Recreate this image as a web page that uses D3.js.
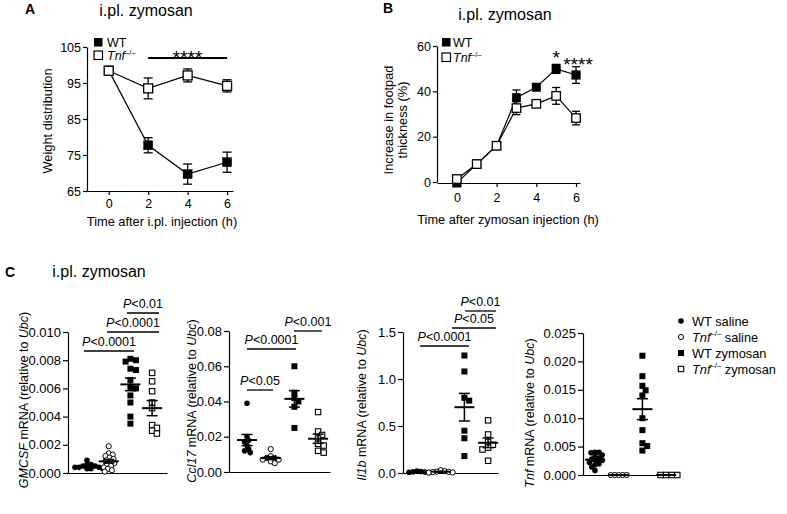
<!DOCTYPE html>
<html><head><meta charset="utf-8">
<script src="https://cdn.jsdelivr.net/npm/d3@7"></script>
<style>
body{margin:0;background:#fff}
svg{display:block;background:#fff}
text{font-family:"Liberation Sans",Arial,sans-serif;fill:#000}
</style>
</head><body>
<svg id="chart" width="787" height="514"></svg>
<script>
// ---------- Panel A data ----------
const timesA = [0, 2, 4, 6];
const wtA = [98.5, 77.7, 69.7, 73.0];
const wtAerr = [0.6, 2.1, 2.8, 2.8];
const tnfA = [98.4, 93.5, 97.1, 94.2];
const tnfAerr = [0.6, 2.9, 1.8, 1.7];
const ticksAx = [0, 2, 4, 6];
const ticksAy = [65, 75, 85, 95, 105];

// ---------- Panel B data ----------
const timesB = [0, 1, 2, 3, 4, 5, 6];
const wtB = [-0.4, 7.9, 16, 37.2, 41.8, 49.9, 47.2];
const wtBerr = [0.5, 0.8, 0.8, 3.4, 1.0, 2.0, 3.7];
const tnfB = [1.3, 7.9, 16, 32.6, 34.5, 38.0, 28.2];
const tnfBerr = [0.5, 0.8, 0.8, 2.9, 1.0, 3.7, 3.0];
const ticksBx = [0, 2, 4, 6];
const ticksBy = [0, 20, 40, 60];

// ---------- Panel C data (groups: WT saline, Tnf-/- saline, WT zymosan, Tnf-/- zymosan) ----------
const groupsC = ["WT saline", "Tnf saline", "WT zymosan", "Tnf zymosan"];
const gmcsfData = [
  [0.0009, 0.0006, 0.0006, 0.0005, 0.0005, 0.0004, 0.0004, 0.0004, 0.0003, 0.0003, 0.0003],
  [0.0019, 0.0014, 0.0013, 0.0012, 0.0011, 0.0010, 0.0009, 0.0008, 0.0007, 0.0006, 0.0005, 0.0004, 0.0003, 0.0002, 0.0001],
  [0.0080, 0.0081, 0.0079, 0.0074, 0.0073, 0.0066, 0.0061, 0.0060, 0.0055, 0.0050, 0.0040, 0.0035],
  [0.0071, 0.0065, 0.0058, 0.0050, 0.0046, 0.0034, 0.0032, 0.0030, 0.0028]
];
const ccl17Data = [
  [0.039, 0.020, 0.018, 0.017, 0.015, 0.013, 0.012, 0.011],
  [0.013, 0.009, 0.008, 0.008, 0.007, 0.007, 0.006, 0.005],
  [0.060, 0.045, 0.042, 0.040, 0.037, 0.025],
  [0.034, 0.023, 0.021, 0.019, 0.016, 0.015, 0.012, 0.011]
];
const il1bData = [
  [0.020, 0.015, 0.012, 0.010, 0.008, 0.005],
  [0.030, 0.020, 0.015, 0.012, 0.010, 0.006, 0.004],
  [1.25, 1.08, 0.80, 0.77, 0.45, 0.37, 0.18],
  [0.56, 0.41, 0.33, 0.30, 0.27, 0.25, 0.13]
];
const tnfData = [
  [0.0040, 0.0040, 0.0039, 0.0035, 0.0032, 0.0030, 0.0028, 0.0026, 0.0025, 0.0022, 0.0020, 0.0018, 0.0014, 0.0008],
  [0, 0, 0, 0, 0],
  [0.0210, 0.0174, 0.0157, 0.0149, 0.0140, 0.0100, 0.0079, 0.0056, 0.0051, 0.0043],
  [0, 0, 0, 0]
];
const gmcsfTicks = [0, 0.002, 0.004, 0.006, 0.008, 0.010];
const ccl17Ticks = [0, 0.02, 0.04, 0.06, 0.08];
const il1bTicks = [0, 0.5, 1.0, 1.5];
const tnfTicks = [0, 0.005, 0.010, 0.015, 0.020, 0.025];
// significance annotations: [from group, to group, label]
const gmcsfSig = [[-0.14, 2.17, "<0.0001"], [0.92, 3.32, "<0.0001"], [1.84, 3.32, "<0.01"]];
const ccl17Sig = [[0, 1.1, "<0.05"], [0, 2.07, "<0.0001"], [1.98, 3.16, "<0.001"]];
const il1bSig = [[0.13, 2.19, "<0.0001"], [1.48, 3.33, "<0.05"], [2.03, 3.33, "<0.01"]];
const tnfSig = [];

// ---------- drawing ----------
const svg = d3.select("#chart");
const F = '"Liberation Sans", Arial, sans-serif';

function styleAxis(g, fs) {
  g.attr("font-family", F).attr("font-size", fs);
  g.select(".domain").attr("stroke", "#000").attr("stroke-width", 1.2);
  g.selectAll(".tick line").attr("stroke", "#000").attr("stroke-width", 1.2);
  g.selectAll(".tick text").attr("fill", "#000");
}

function tnfSup(t, fs, extra) {
  t.append("tspan").attr("font-style", "italic").text("Tnf");
  t.append("tspan").attr("font-size", fs * 0.6).attr("dy", -fs * 0.4).text("\u2013/\u2013");
  if (extra) t.append("tspan").attr("dy", fs * 0.4).text(extra);
}

function errPlot(g, x, y, times, vals, errs, filled, size, cap) {
  g.append("path")
    .attr("d", d3.line().x((d, i) => x(times[i])).y(d => y(d))(vals))
    .attr("fill", "none").attr("stroke", "#000").attr("stroke-width", 1.2);
  const eg = g.append("g").attr("stroke", "#000").attr("stroke-width", 1.3);
  vals.forEach((v, i) => {
    const cx = x(times[i]);
    eg.append("line").attr("x1", cx).attr("x2", cx).attr("y1", y(v - errs[i])).attr("y2", y(v + errs[i]));
    eg.append("line").attr("x1", cx - cap / 2).attr("x2", cx + cap / 2).attr("y1", y(v + errs[i])).attr("y2", y(v + errs[i]));
    eg.append("line").attr("x1", cx - cap / 2).attr("x2", cx + cap / 2).attr("y1", y(v - errs[i])).attr("y2", y(v - errs[i]));
  });
  g.selectAll(null).data(vals).enter().append("rect")
    .attr("x", (d, i) => x(times[i]) - size / 2).attr("y", d => y(d) - size / 2)
    .attr("width", size).attr("height", size)
    .attr("fill", filled ? "#000" : "#fff").attr("stroke", "#000").attr("stroke-width", filled ? 0.5 : 1.3);
}

// ===== Panel A =====
{
  const g = svg.append("g");
  const x = d3.scaleLinear([-1.1, 6.3], [87, 233]);
  const y = d3.scaleLinear([65, 105], [191, 47]);
  const ay = g.append("g").attr("transform", "translate(87,0)")
    .call(d3.axisLeft(y).tickValues(ticksAy).tickSize(4).tickPadding(2).tickSizeOuter(0));
  styleAxis(ay, 12.5);
  const ax = g.append("g").attr("transform", "translate(0,191)")
    .call(d3.axisBottom(x).tickValues(ticksAx).tickSize(4).tickPadding(4).tickSizeOuter(0));
  styleAxis(ax, 12.5);
  errPlot(g, x, y, timesA, wtA, wtAerr, true, 9, 9);
  errPlot(g, x, y, timesA, tnfA, tnfAerr, false, 9, 9);
  g.append("line").attr("x1", x(2)).attr("x2", x(6)).attr("y1", 58).attr("y2", 58).attr("stroke", "#000").attr("stroke-width", 2);
  g.append("text").attr("x", x(4)).attr("y", 63.5).attr("text-anchor", "middle").attr("font-size", 19).text("****");
  g.append("text").attr("x", 25).attr("y", 14).attr("font-size", 14).attr("font-weight", "bold").text("A");
  g.append("text").attr("x", 146).attr("y", 16).attr("text-anchor", "middle").attr("font-size", 16).text("i.pl. zymosan");
  g.append("text").attr("transform", "translate(52,121) rotate(-90)").attr("text-anchor", "middle").attr("font-size", 12.8).text("Weight distribution");
  g.append("text").attr("x", 162).attr("y", 226).attr("text-anchor", "middle").attr("font-size", 12.8).text("Time after i.pl. injection (h)");
  // legend
  g.append("rect").attr("x", 94).attr("y", 38).attr("width", 8.5).attr("height", 8.5).attr("fill", "#000");
  g.append("rect").attr("x", 94).attr("y", 51).attr("width", 8.5).attr("height", 8.5).attr("fill", "#fff").attr("stroke", "#000").attr("stroke-width", 1.2);
  g.append("text").attr("x", 107).attr("y", 46.5).attr("font-size", 12.5).text("WT");
  tnfSup(g.append("text").attr("x", 107).attr("y", 60).attr("font-size", 12.5), 12.5);
}

// ===== Panel B =====
{
  const g = svg.append("g");
  const x = d3.scaleLinear([-1.0, 6.2], [437, 580]);
  const y = d3.scaleLinear([0, 60], [182, 46]);
  const ay = g.append("g").attr("transform", "translate(437,0)")
    .call(d3.axisLeft(y).tickValues(ticksBy).tickSize(4).tickPadding(2).tickSizeOuter(0));
  styleAxis(ay, 12.5);
  const ax = g.append("g").attr("transform", "translate(0,183)")
    .call(d3.axisBottom(x).tickValues(ticksBx).tickSize(4).tickPadding(6).tickSizeOuter(0));
  styleAxis(ax, 12.5);
  errPlot(g, x, y, timesB, wtB, wtBerr, true, 8.5, 8);
  errPlot(g, x, y, timesB, tnfB, tnfBerr, false, 8.5, 8);
  g.append("text").attr("x", x(5)).attr("y", 64).attr("text-anchor", "middle").attr("font-size", 19).text("*");
  g.append("text").attr("x", 578).attr("y", 71).attr("text-anchor", "middle").attr("font-size", 19).text("****");
  g.append("text").attr("x", 383).attr("y", 13).attr("font-size", 14).attr("font-weight", "bold").text("B");
  g.append("text").attr("x", 505).attr("y", 20).attr("text-anchor", "middle").attr("font-size", 16).text("i.pl. zymosan");
  g.append("text").attr("transform", "translate(393,120) rotate(-90)").attr("text-anchor", "middle").attr("font-size", 12.8).text("Increase in footpad");
  g.append("text").attr("transform", "translate(407,120) rotate(-90)").attr("text-anchor", "middle").attr("font-size", 12.8).text("thickness (%)");
  g.append("text").attr("x", 508).attr("y", 224).attr("text-anchor", "middle").attr("font-size", 12.8).text("Time after zymosan injection (h)");
  g.append("rect").attr("x", 442).attr("y", 38).attr("width", 8.5).attr("height", 8.5).attr("fill", "#000");
  g.append("rect").attr("x", 442).attr("y", 53).attr("width", 8.5).attr("height", 8.5).attr("fill", "#fff").attr("stroke", "#000").attr("stroke-width", 1.2);
  g.append("text").attr("x", 453).attr("y", 46.5).attr("font-size", 12.5).text("WT");
  tnfSup(g.append("text").attr("x", 453).attr("y", 62).attr("font-size", 12.5), 12.5);
}

// ===== Panel C =====
svg.append("text").attr("x", 5).attr("y", 277).attr("font-size", 14).attr("font-weight", "bold").text("C");
svg.append("text").attr("x", 99).attr("y", 277).attr("text-anchor", "middle").attr("font-size", 16).text("i.pl. zymosan");

function swarm(vals, y, cx, minD) {
  const pts = vals.map(v => ({ v, py: y(v) })).sort((a, b) => b.v - a.v);
  const placed = [];
  for (const p of pts) {
    let off = 0;
    for (let n = 0; n < 80; n++) {
      off = n === 0 ? 0 : (n % 2 ? 1 : -1) * Math.ceil(n / 2) * 0.8;
      const ok = placed.every(q => (q.px - (cx + off)) ** 2 + (q.py - p.py) ** 2 >= minD * minD);
      if (ok) break;
    }
    p.px = cx + off;
    placed.push(p);
  }
  return placed;
}

const subC = [
  { data: gmcsfData, ticks: gmcsfTicks, fmt: ".3f", sig: gmcsfSig, axisX: 68, axisR: 167, yTop: 332, yBot: 473, g0: 87, gs: 21.7, barY: [351, 332, 313], labX: 28, labY: 400,
    label: [["GMCSF", 1], [" mRNA (relative to ", 0], ["Ubc", 1], [")", 0]] },
  { data: ccl17Data, ticks: ccl17Ticks, fmt: ".2f", sig: ccl17Sig, axisX: 229, axisR: 330, yTop: 331, yBot: 472, g0: 247, gs: 23.7, barY: [390, 349, 331], labX: 196, labY: 401,
    label: [["Ccl17", 1], [" mRNA (relative to ", 0], ["Ubc", 1], [")", 0]] },
  { data: il1bData, ticks: il1bTicks, fmt: ".1f", sig: il1bSig, axisX: 403, axisR: 498, yTop: 332, yBot: 473, g0: 417, gs: 23.7, barY: [346, 328, 311], labX: 366, labY: 405,
    label: [["Il1b", 1], [" mRNA (relative to ", 0], ["Ubc", 1], [")", 0]] },
  { data: tnfData, ticks: tnfTicks, fmt: ".3f", sig: tnfSig, axisX: 583, axisR: 678, yTop: 333, yBot: 475, g0: 595, gs: 23.7, barY: [], labX: 534, labY: 413,
    label: [["Tnf", 1], [" mRNA (relative to ", 0], ["Ubc", 1], [")", 0]] }
];

const markerKinds = ["dot", "ring", "sq", "osq"];
function drawMarker(g, kind, cx, cy) {
  if (kind === "dot") g.append("circle").attr("cx", cx).attr("cy", cy).attr("r", 2.8).attr("fill", "#000");
  else if (kind === "ring") g.append("circle").attr("cx", cx).attr("cy", cy).attr("r", 2.6).attr("fill", "#fff").attr("stroke", "#000").attr("stroke-width", 1);
  else if (kind === "sq") g.append("rect").attr("x", cx - 3).attr("y", cy - 3).attr("width", 6).attr("height", 6).attr("fill", "#000");
  else g.append("rect").attr("x", cx - 2.7).attr("y", cy - 2.7).attr("width", 5.4).attr("height", 5.4).attr("fill", "#fff").attr("stroke", "#000").attr("stroke-width", 1.1);
}

subC.forEach(p => {
  const g = svg.append("g");
  const ymax = p.ticks[p.ticks.length - 1];
  const y = d3.scaleLinear([0, ymax], [p.yBot, p.yTop]);
  const gx = d3.scaleLinear([0, 1], [p.g0, p.g0 + p.gs]);
  const xa = d3.scaleLinear([0, 1], [p.axisX, p.axisR]);
  const ay = g.append("g").attr("transform", `translate(${p.axisX},0)`)
    .call(d3.axisLeft(y).tickValues(p.ticks).tickFormat(d3.format(p.fmt)).tickSize(5).tickPadding(2).tickSizeOuter(0));
  styleAxis(ay, 13);
  const ax = g.append("g").attr("transform", `translate(0,${p.yBot})`)
    .call(d3.axisBottom(xa).tickValues([]).tickSizeOuter(0));
  styleAxis(ax, 13);
  // points
  p.data.forEach((vals, gi) => {
    const kind = markerKinds[gi];
    const pts = swarm(vals, y, gx(gi), kind === "sq" || kind === "osq" ? 5.2 : 3.8);
    pts.forEach(q => drawMarker(g, kind, q.px, q.py));
  });
  // mean ± SEM
  p.data.forEach((vals, gi) => {
    const m = d3.mean(vals);
    const sem = vals.length > 1 ? (d3.deviation(vals) || 0) / Math.sqrt(vals.length) : 0;
    const cx = gx(gi);
    const s = g.append("g").attr("stroke", "#000");
    s.append("line").attr("x1", cx - 10).attr("x2", cx + 10).attr("y1", y(m)).attr("y2", y(m)).attr("stroke-width", 2);
    if (sem > 0) {
      s.append("line").attr("x1", cx).attr("x2", cx).attr("y1", y(m - sem)).attr("y2", y(m + sem)).attr("stroke-width", 1.5);
      [m - sem, m + sem].forEach(v => s.append("line").attr("x1", cx - 5.5).attr("x2", cx + 5.5).attr("y1", y(v)).attr("y2", y(v)).attr("stroke-width", 1.5));
    }
  });
  // significance bars
  p.sig.forEach((s, i) => {
    const by = p.barY[i];
    g.append("line").attr("x1", gx(s[0])).attr("x2", gx(s[1])).attr("y1", by).attr("y2", by).attr("stroke", "#000").attr("stroke-width", 1.3);
    const t = g.append("text").attr("x", (gx(s[0]) + gx(s[1])) / 2).attr("y", by - 5).attr("text-anchor", "middle").attr("font-size", 12.5);
    t.append("tspan").attr("font-style", "italic").text("P");
    t.append("tspan").text(s[2]);
  });
  // y label
  const t = g.append("text").attr("transform", `translate(${p.labX},${p.labY}) rotate(-90)`).attr("text-anchor", "middle").attr("font-size", 12.5);
  p.label.forEach(([s, it]) => t.append("tspan").attr("font-style", it ? "italic" : "normal").text(s));
});

// legend C
{
  const g = svg.append("g");
  groupsC.forEach((name, i) => {
    const cy = 321 + i * 16;
    drawMarker(g, markerKinds[i], 681, cy);
    const t = g.append("text").attr("x", 692).attr("y", cy + 4.5).attr("font-size", 12.8);
    if (name.startsWith("Tnf")) tnfSup(t, 12.8, name.slice(3));
    else t.text(name);
  });
}
</script>
</body></html>
